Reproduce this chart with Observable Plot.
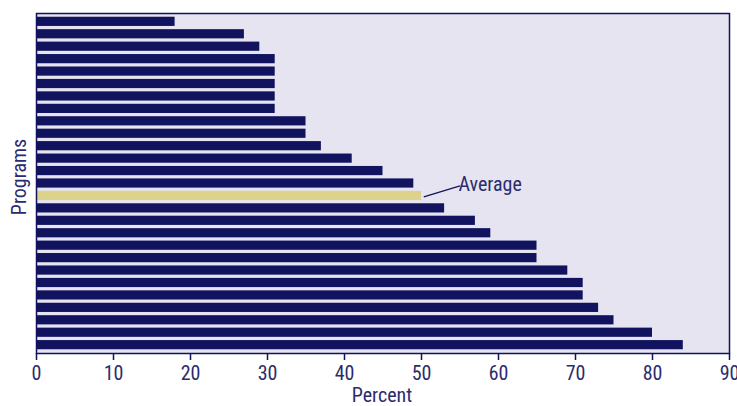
<!DOCTYPE html>
<html>
<head>
<meta charset="utf-8">
<script src="https://cdn.jsdelivr.net/npm/d3@7"></script>
<script src="https://cdn.jsdelivr.net/npm/@observablehq/plot@0.6"></script>
<style>
  html, body { margin: 0; padding: 0; background: #ffffff; }
  #chart svg { display: block; }
</style>
</head>
<body>
<div id="chart"></div>
<script>
const programs = ["P1","P2","P3","P4","P5","P6","P7","P8","P9","P10","P11","P12","P13","P14","Average","P15","P16","P17","P18","P19","P20","P21","P22","P23","P24","P25","P26"];
const percents = [18,27,29,31,31,31,31,31,35,35,37,41,45,49,50,53,57,59,65,65,69,71,71,73,75,80,84];
const xTicks = [0,10,20,30,40,50,60,70,80,90];
const averageLabel = "Average";

const navy = "#12135f";
const gold = "#dcd28b";
const bg = "#e5e4f0";
const textColor = "#2b2c6c";
const font = "'Liberation Sans Narrow', 'Roboto Condensed', 'DejaVu Sans Condensed', sans-serif";

const data = programs.map((p, i) => ({program: p, value: percents[i], avg: p === "Average"}));
const avgRow = data.filter(d => d.avg);

const chart = Plot.plot({
  width: 737,
  height: 406,
  marginLeft: 36,
  marginRight: 8,
  marginTop: 13,
  marginBottom: 53,
  style: {fontFamily: font, fontSize: "20px", color: textColor, background: "#ffffff"},
  x: {domain: [0, 90], ticks: xTicks, label: null},
  y: {domain: programs, paddingInner: 0.26, paddingOuter: 0.3, round: false, axis: null, label: null},
  marks: [
    Plot.frame({fill: bg}),
    Plot.barX(data, {y: "program", x: "value", fill: d => d.avg ? gold : navy}),
    Plot.link(avgRow, {
      x1: d => d.value + 0.3,
      y1: "program",
      x2: d => d.value + 5,
      y2: "program",
      stroke: navy,
      strokeWidth: 1.2
    }),
    Plot.frame({stroke: navy, strokeWidth: 1.5}),
    Plot.axisX({ticks: xTicks, tickSize: 7, tickPadding: 5, stroke: navy, strokeWidth: 1.5, fill: textColor, fontSize: 20, label: null}),
    Plot.text([averageLabel], {x: () => 54.8, y: () => "P14", text: d => d, textAnchor: "start", dy: 1, fill: textColor, fontSize: 20})
  ]
});

// slope the connector upward from the bar end to the label, as in the reference
const svg = d3.select(chart);
chart.querySelectorAll("g[aria-label='link'] path").forEach(p => {
  const d = p.getAttribute("d");
  const m = d.match(/M([\d.-]+),([\d.-]+)L([\d.-]+),([\d.-]+)/);
  if (m) {
    const x1 = +m[1], y1 = +m[2], x2 = +m[3], y2 = +m[4];
    p.setAttribute("d", `M${x1},${y1 + 1}L${x2},${y2 - 10}`);
  }
});

// axis titles
svg.append("text")
  .attr("x", 382).attr("y", 402)
  .attr("text-anchor", "middle")
  .attr("fill", textColor)
  .attr("font-family", font)
  .attr("font-size", 20)
  .text("Percent");
svg.append("text")
  .attr("transform", "translate(26,177) rotate(-90)")
  .attr("text-anchor", "middle")
  .attr("fill", textColor)
  .attr("font-family", font)
  .attr("font-size", 20)
  .text("Programs");

document.getElementById("chart").appendChild(chart);
</script>
</body>
</html>
